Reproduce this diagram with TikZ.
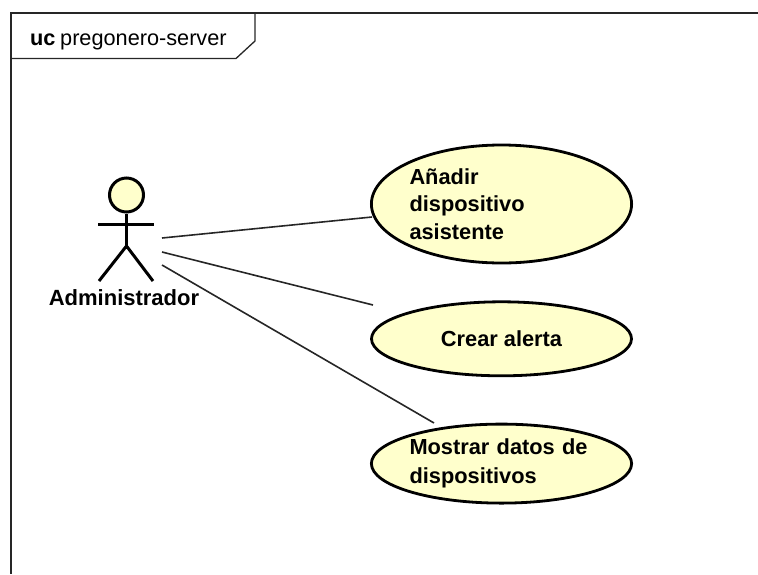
\documentclass[tikz,border=0pt]{standalone}
\usepackage{fontspec}
\setmainfont{Liberation Sans}
\usetikzlibrary{positioning,shapes.geometric}
\definecolor{ucfill}{RGB}{255,255,204}

\begin{document}
\begin{tikzpicture}
%Use case diagram
	[
		x=1pt,y=-1pt,
		%Styles
		usecase_node/.style={ellipse,draw=black,fill=ucfill,line width=2.8pt,inner sep=0pt,minimum width=260pt,font=\fontsize{21.8}{27.5}\selectfont\bfseries},
		usecase_left/.style={usecase_node,text width=184pt,align=left},
		actor_line/.style={draw=black,line width=3pt},
		frame_line/.style={draw=black!85,line width=1.3pt},
		link_line/.style={draw=black!85,line width=1.6pt},
		label_simple/.style={inner sep=0pt,font=\fontsize{21.7}{26}\selectfont}
	]
	\useasboundingbox (0,0) rectangle (758,574);

	%Frame
	\draw[frame_line] (758,13) -- (11,13) -- (11,574);
	\draw[frame_line] (11,58.5) -- (236,58.5) -- (255,41) -- (255,13);
	\node (frameKind)[label_simple,anchor=base west] at (30,45) {\bfseries uc};
	\node (frameName)[label_simple,anchor=base west] at (60,45) {pregonero-server};

	%Actor
	\node (actorHead)[circle,actor_line,fill=ucfill,inner sep=0pt,minimum size=34pt] at (126.5,195) {};
	\coordinate (actorHip) at (126.5,246);
	\coordinate (armLeft) at (98,224);
	\coordinate (armRight) at (153.5,224);
	\coordinate (legLeft) at (99,281);
	\coordinate (legRight) at (153,281);
	\node (actorName)[label_simple,font=\fontsize{22}{26}\selectfont\bfseries,anchor=base] at (124,305) {Administrador};
	\draw[actor_line] (actorHead.south) -- (actorHip);
	\draw[actor_line] (armLeft) -- (armRight);
	\draw[actor_line] (legLeft) -- (actorHip) -- (legRight);

	%Use cases
	\node (ucAnadir)[usecase_left,minimum height=118pt] at (501.5,204) {Añadir\\dispositivo\\asistente};
	\node (ucCrear)[usecase_node,minimum height=74pt,below=36pt of ucAnadir] {Crear alerta};
	\node (ucMostrar)[usecase_left,minimum height=79pt,below=45.5pt of ucCrear] {Mostrar datos de\\[1pt]dispositivos};

	%Edges
	\coordinate (linkStartA) at (162,238);
	\coordinate (linkStartB) at (162,252);
	\coordinate (linkStartC) at (162,265);
	\coordinate (linkEndA) at (372,217);
	\coordinate (linkEndB) at (373,305);
	\coordinate (linkEndC) at (434,423);
	\path[link_line]
		(linkStartA) edge (linkEndA)
		(linkStartB) edge (linkEndB)
		(linkStartC) edge (linkEndC);
\end{tikzpicture}
\end{document}
